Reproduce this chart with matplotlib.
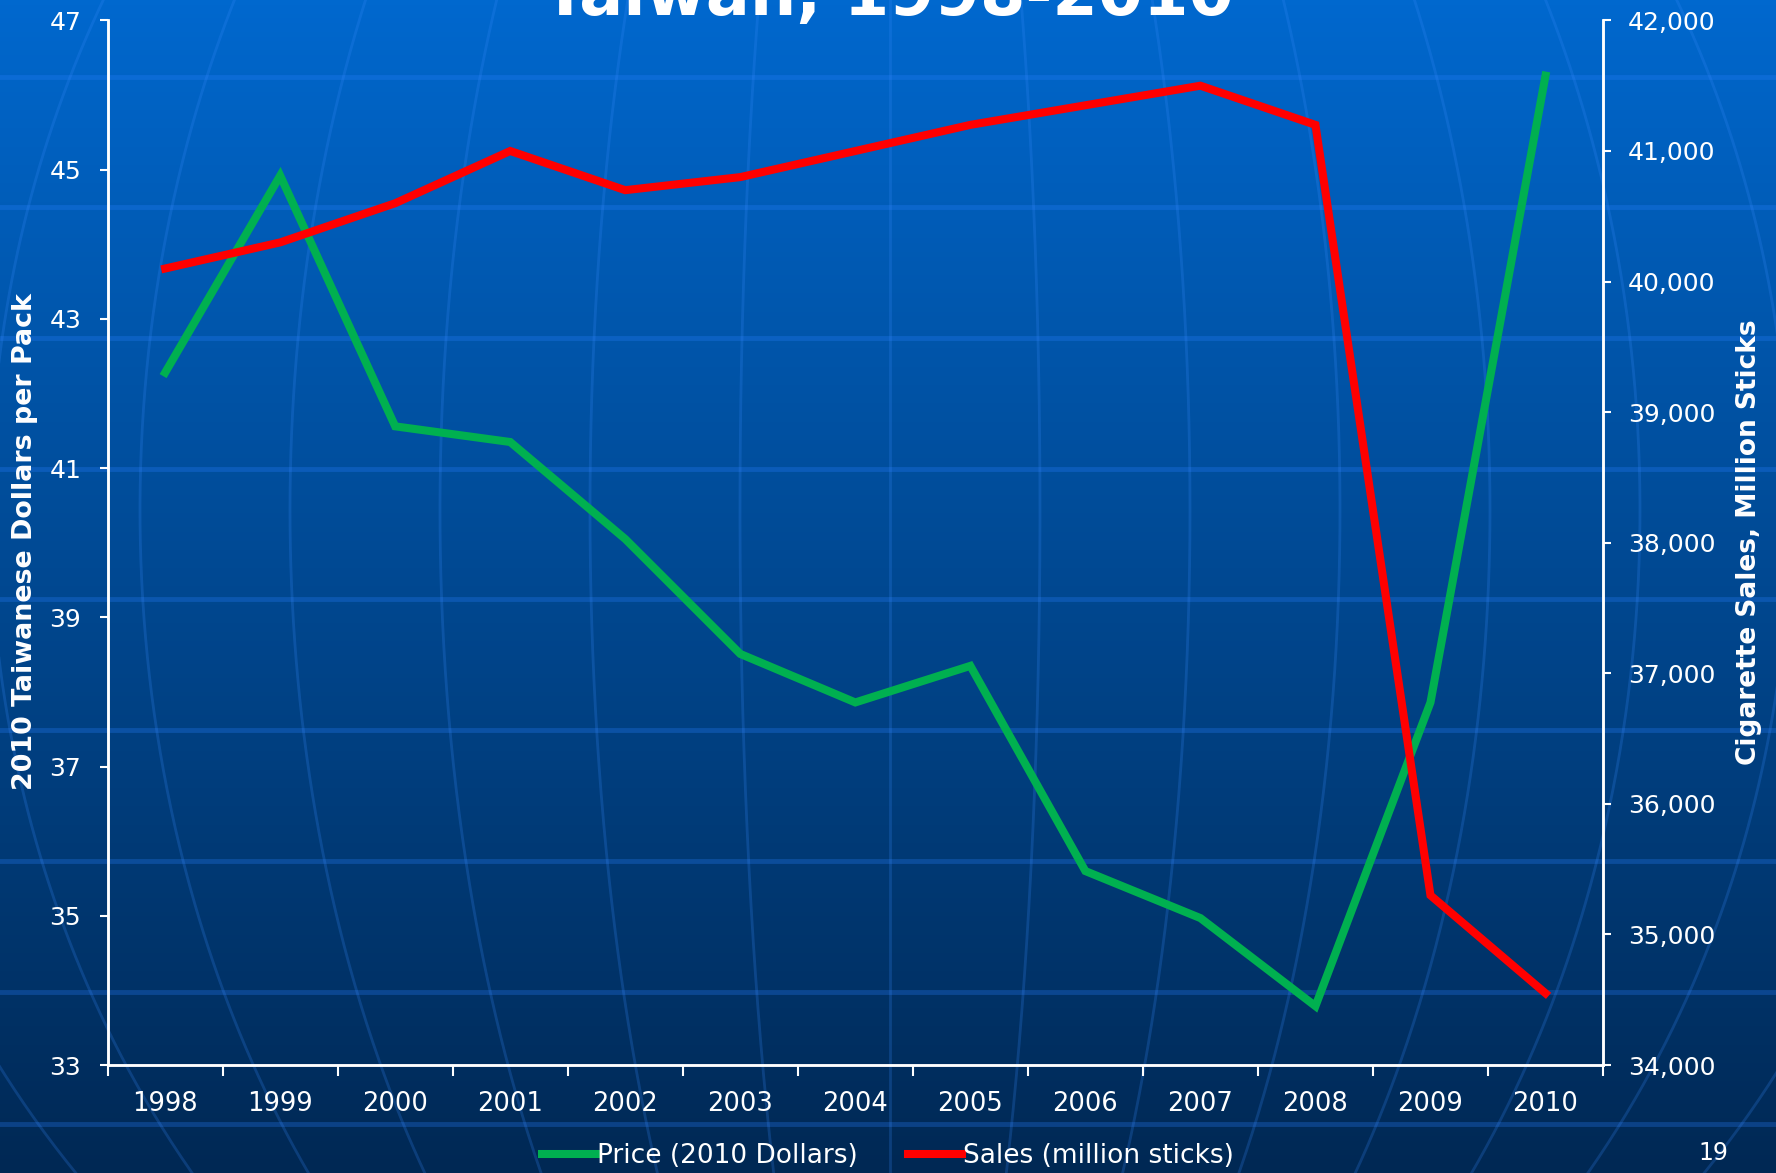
import matplotlib
matplotlib.use('Agg')
import matplotlib.pyplot as plt
import numpy as np
from matplotlib.ticker import FuncFormatter, FixedLocator

# data
years = ['1998', '1999', '2000', '2001', '2002', '2003', '2004',
         '2005', '2006', '2007', '2008', '2009', '2010']
price = [42.28, 44.92, 41.56, 41.35, 40.05, 38.51, 37.86,
         38.35, 35.60, 34.97, 33.79, 37.86, 46.26]
sales = [40100, 40300, 40600, 41000, 40700, 40800, 41000,
         41200, 41350, 41500, 41200, 35300, 34550]

W, H = 1776, 1173
fig = plt.figure(figsize=(W / 100, H / 100), dpi=100)

# slide background: blue gradient, horizontal bands, faint globe meridians
bg = fig.add_axes([0, 0, 1, 1], zorder=-10)
bg.set_xlim(0, W)
bg.set_ylim(H, 0)
bg.axis('off')
top = np.array([0, 104, 206]) / 255
bot = np.array([0, 40, 84]) / 255
t = np.linspace(0, 1, 256)[:, None]
grad = top * (1 - t) + bot * t
grad = np.repeat(grad[:, None, :], 2, axis=1)
bg.imshow(grad, extent=[0, W, H, 0], aspect='auto', zorder=0)

for yy in [77, 207, 338, 469, 599, 730, 861, 992, 1124]:
    bg.axhline(yy, color='#2a80ff', alpha=0.28, lw=3.5, zorder=1)

cx, cy, ry = 890, 510, 1050
yy = np.linspace(-200, H + 50, 300)
fac = np.sqrt(np.clip(1 - ((yy - cy) / ry) ** 2, 0, None))
for a in np.arange(-1050, 1051, 150):
    bg.plot(cx + a * fac, yy, color='#3a8cff', alpha=0.22, lw=2, zorder=1)

# chart
ax = fig.add_axes([0.0606, 0.092, 0.8420, 0.8906])
ax.set_facecolor('none')
x = np.arange(len(years))

ax.plot(x, price, color='#00b050', lw=5.8, solid_joinstyle='miter',
        label='Price (2010 Dollars)')
ax.set_xlim(-0.5, len(years) - 0.5)
ax.set_ylim(33, 47)
ax.set_yticks(np.arange(33, 48, 2))

ax2 = ax.twinx()
ax2.plot(x, sales, color='#ff0000', lw=5.8, solid_joinstyle='miter',
         label='Sales (million sticks)')
ax2.set_ylim(34000, 42000)
ax2.set_yticks(np.arange(34000, 42001, 1000))
ax2.yaxis.set_major_formatter(FuncFormatter(lambda v, p: f'{int(v):,}'))

ax.xaxis.set_major_locator(FixedLocator(np.arange(-0.5, len(years), 1)))
ax.set_xticklabels([])
ax.xaxis.set_minor_locator(FixedLocator(x))
ax.set_xticklabels(years, minor=True)
ax.tick_params(axis='x', which='major', length=8, width=1.5, color='white', direction='out')
ax.tick_params(axis='x', which='minor', length=0, pad=19, labelsize=18.5, labelcolor='white')
ax.tick_params(axis='y', length=6, width=1.5, color='white', pad=13,
               labelsize=18, labelcolor='white')
ax2.tick_params(axis='y', length=6, width=1.5, color='white', pad=12,
                labelsize=18, labelcolor='white')

for a_ in (ax, ax2):
    a_.spines['top'].set_visible(False)
    for s in ('left', 'right', 'bottom'):
        a_.spines[s].set_color('white')
        a_.spines[s].set_linewidth(1.8)

fig.text(0.014, 0.538, '2010 Taiwanese Dollars per Pack', rotation=90,
         ha='center', va='center', color='white', fontsize=19.4, fontweight='bold')
fig.text(0.985, 0.538, 'Cigarette Sales, Million Sticks', rotation=90,
         ha='center', va='center', color='white', fontsize=19, fontweight='bold')

fig.text(0.5, 0.987, 'Taiwan, 1998-2010', ha='center', va='baseline',
         color='white', fontsize=47, fontweight='bold')

h1, l1 = ax.get_legend_handles_labels()
h2, l2 = ax2.get_legend_handles_labels()
leg = fig.legend(h1 + h2, l1 + l2, loc='center', bbox_to_anchor=(0.5, 0.0145),
                 ncol=2, frameon=False, fontsize=19, handlelength=2.05,
                 handletextpad=0.05, columnspacing=1.9)
for txt in leg.get_texts():
    txt.set_color('white')

fig.text(0.965, 0.017, '19', ha='center', va='center', color='white', fontsize=17)

fig.savefig('out.png', dpi=100)
